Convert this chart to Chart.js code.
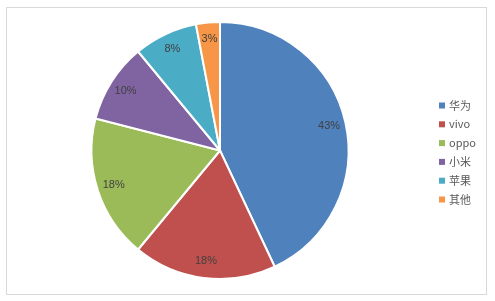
<!DOCTYPE html>
<html>
<head>
<meta charset="utf-8">
<script src="https://cdn.jsdelivr.net/npm/chart.js@4/dist/chart.umd.min.js"></script>
<style>
  html, body { margin: 0; padding: 0; background: #fff; }
  #wrap { position: relative; width: 495px; height: 301px; }
</style>
</head>
<body>
<div id="wrap"><canvas id="taart" width="495" height="301"></canvas></div>
<script>
const merken = ['华为', 'vivo', 'oppo', '小米', '苹果', '其他'];
const aandelen = [43, 18, 18, 10, 8, 3];
const kleuren = ['#4F81BD', '#C0504D', '#9BBB59', '#8064A2', '#4BACC6', '#F79646'];

// rand om de hele grafiek
const randPlugin = {
    id: 'rand',
    beforeDraw(chart) {
        const ctx = chart.ctx;
        ctx.save();
        ctx.strokeStyle = '#d9d9d9';
        ctx.lineWidth = 1;
        ctx.strokeRect(6.5, 7.5, 480, 287);
        ctx.restore();
    }
};

// percentages in de taartpunten
const labelPlugin = {
    id: 'labels',
    afterDatasetsDraw(chart) {
        const ctx = chart.ctx;
        const meta = chart.getDatasetMeta(0);
        ctx.save();
        ctx.font = '11px "Liberation Sans", Arial, sans-serif';
        ctx.fillStyle = '#404040';
        ctx.textAlign = 'center';
        ctx.textBaseline = 'middle';
        meta.data.forEach((arc, i) => {
            const p = arc.getProps(['x', 'y', 'startAngle', 'endAngle', 'outerRadius'], true);
            const mid = (p.startAngle + p.endAngle) / 2;
            const r = p.outerRadius * 0.87;
            ctx.fillText(aandelen[i] + '%', p.x + Math.cos(mid) * r, p.y + Math.sin(mid) * r);
        });
        ctx.restore();
    }
};

// legenda rechts
const legendaPlugin = {
    id: 'legenda',
    afterDraw(chart) {
        const ctx = chart.ctx;
        ctx.save();
        ctx.font = '11px "Noto Sans CJK SC", "Liberation Sans", sans-serif';
        ctx.textBaseline = 'middle';
        merken.forEach((m, i) => {
            const y = 105.5 + i * 18.8;
            ctx.fillStyle = kleuren[i];
            ctx.fillRect(439, y - 3, 6, 6);
            ctx.fillStyle = '#595959';
            ctx.fillText(m, 449, y);
        });
        ctx.restore();
    }
};

const ctx = document.getElementById('taart').getContext('2d');
new Chart(ctx, {
    type: 'pie',
    data: {
        labels: merken,
        datasets: [{
            data: aandelen,
            backgroundColor: kleuren,
            borderColor: '#ffffff',
            borderWidth: 2,
            hoverOffset: 0,
            offset: 0
        }]
    },
    options: {
        responsive: false,
        animation: false,
        layout: { padding: { left: 20, right: 75, top: 21, bottom: 21 } },
        plugins: {
            legend: { display: false },
            tooltip: { enabled: false }
        }
    },
    plugins: [randPlugin, labelPlugin, legendaPlugin]
});
</script>
</body>
</html>
